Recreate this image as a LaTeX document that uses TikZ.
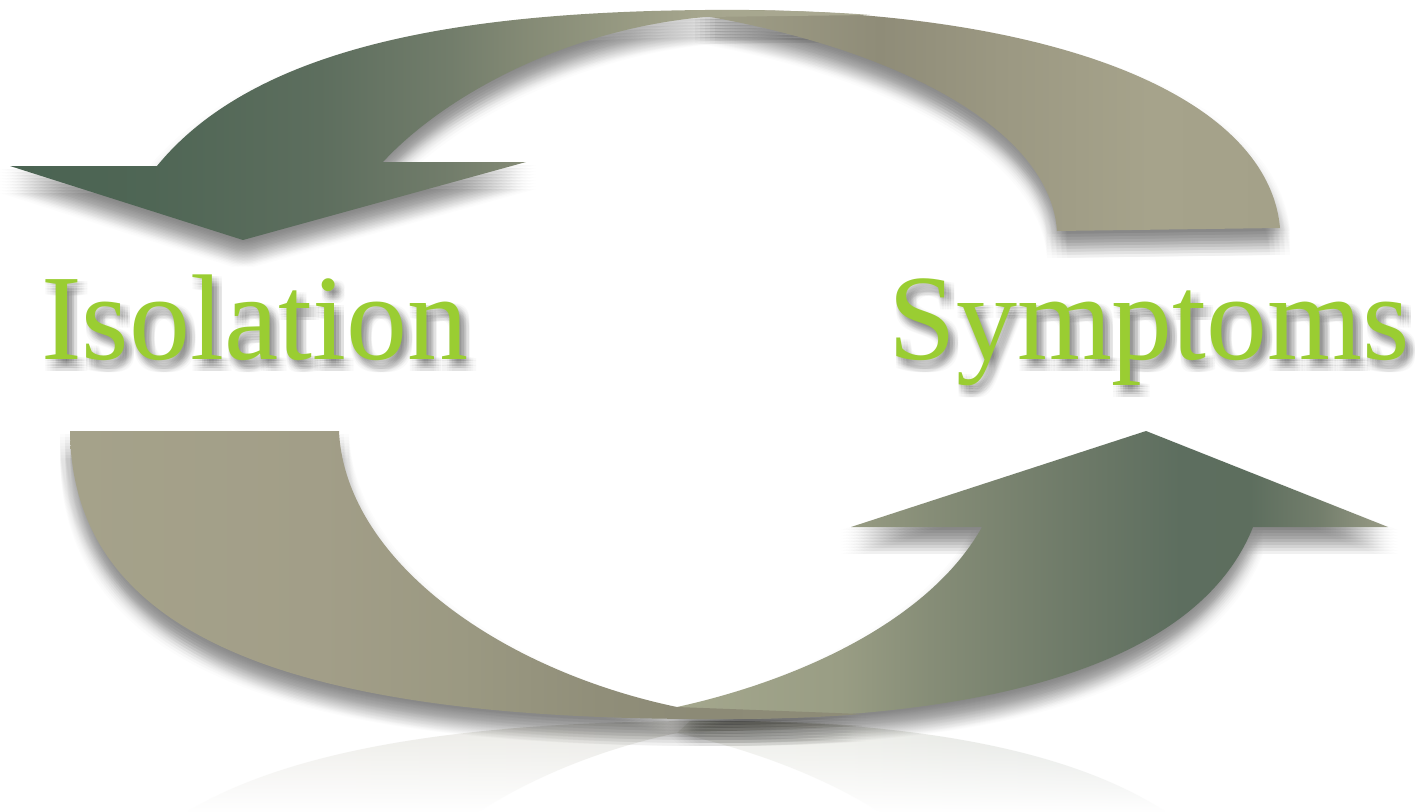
\documentclass[tikz,border=0pt]{standalone}
\usepackage{fontspec}
\setmainfont{Liberation Serif}
\usetikzlibrary{fadings,calc}

\definecolor{leafgreen}{HTML}{9ACD32}

% colour stops of the arrow pieces
\definecolor{ta1}{HTML}{4A6352}\definecolor{ta2}{HTML}{4F6655}
\definecolor{ta3}{HTML}{5D6E5E}\definecolor{ta4}{HTML}{727D6B}
\definecolor{ta5}{HTML}{848A75}\definecolor{ta6}{HTML}{9A9C84}
\definecolor{ta7}{HTML}{A6A68E}\definecolor{ta8}{HTML}{AAA992}

\definecolor{tb1}{HTML}{A09F88}\definecolor{tb2}{HTML}{8F8C78}
\definecolor{tb3}{HTML}{9B9882}\definecolor{tb4}{HTML}{A6A38B}
\definecolor{tb5}{HTML}{A4A189}

\definecolor{bc1}{HTML}{A5A28A}\definecolor{bc2}{HTML}{A29E88}
\definecolor{bc3}{HTML}{9B9982}\definecolor{bc4}{HTML}{908E79}
\definecolor{bc5}{HTML}{8C8A76}\definecolor{bc6}{HTML}{8E8C78}

\definecolor{bd1}{HTML}{A4A78D}\definecolor{bd2}{HTML}{999D84}
\definecolor{bd3}{HTML}{868D77}\definecolor{bd4}{HTML}{6F7B69}
\definecolor{bd5}{HTML}{5D6E5F}\definecolor{bd6}{HTML}{5D6E5E}
\definecolor{bd7}{HTML}{737E6C}\definecolor{bd8}{HTML}{9A9C87}

% horizontal shadings: 25bp..75bp spans the filled path
\pgfdeclarehorizontalshading{topheadshade}{100bp}{color(0bp)=(ta1); color(25bp)=(ta1);
  color(33.1bp)=(ta2); color(43bp)=(ta3); color(50.6bp)=(ta4); color(54.9bp)=(ta5);
  color(61.6bp)=(ta6); color(65.1bp)=(ta7); color(75bp)=(ta8); color(100bp)=(ta8)}
\pgfdeclarehorizontalshading{toptailshade}{100bp}{color(0bp)=(tb1); color(25bp)=(tb1);
  color(40.2bp)=(tb2); color(50.7bp)=(tb3); color(63.7bp)=(tb4); color(75bp)=(tb5); color(100bp)=(tb5)}
\pgfdeclarehorizontalshading{bottailshade}{100bp}{color(0bp)=(bc1); color(25bp)=(bc1);
  color(40.8bp)=(bc2); color(49.7bp)=(bc3); color(58.5bp)=(bc4); color(64.9bp)=(bc5);
  color(75bp)=(bc6); color(100bp)=(bc6)}
\pgfdeclarehorizontalshading{botheadshade}{100bp}{color(0bp)=(bd1); color(25bp)=(bd1);
  color(36.5bp)=(bd2); color(42.8bp)=(bd3); color(52.4bp)=(bd4); color(60.4bp)=(bd5);
  color(65.3bp)=(bd6); color(70.2bp)=(bd7); color(75bp)=(bd8); color(100bp)=(bd8)}

% outlines of the four ribbon pieces (pixel-like units, y downwards)
\newcommand\pathTopHead{(10,166) -- (157,166) .. controls (260,40) and (480,12) .. (705,10)
  .. controls (760,10) and (820,11) .. (870,15) -- (705,17)
  .. controls (560,30) and (440,100) .. (383,162) -- (526,162) -- (243,240) -- cycle}
\newcommand\pathTopTail{(705,10) .. controls (1050,6) and (1268,95) .. (1280,228)
  -- (1057,231) .. controls (1050,130) and (900,50) .. (705,16) -- cycle}
\newcommand\pathBotHead{(690,719) .. controls (1000,722) and (1200,660) .. (1253,527)
  -- (1388,527) -- (1146,431) -- (851,527) -- (982,527)
  .. controls (930,620) and (800,680) .. (677,707) -- cycle}
\newcommand\pathBotTail{(70,431) -- (339,431) .. controls (345,560) and (500,670) .. (677,707)
  -- (862,714) .. controls (800,719) and (750,719) .. (700,719)
  .. controls (300,718) and (72,640) .. (70,431) -- cycle}

% letter-shaped masks for the blurred text shadows
\begin{tikzfadingfrompicture}[name=isolationmask]
  \node[inner sep=0pt, text=transparent!0, font=\fontsize{122}{146}\selectfont] {Isolation};
\end{tikzfadingfrompicture}
\begin{tikzfadingfrompicture}[name=symptomsmask]
  \node[inner sep=0pt, text=transparent!0, font=\fontsize{122}{146}\selectfont] {Symptoms};
\end{tikzfadingfrompicture}

\pgfdeclarelayer{paper}
\pgfdeclarelayer{textshade}
\pgfsetlayers{paper,textshade,main}

\tikzset{
  softshadow/.style={fill=black, opacity=0.013},
  labeltext/.style={anchor=base west, inner sep=0pt, font=\fontsize{122}{146}\selectfont},
}

\begin{document}
\begin{tikzpicture}[x=1pt, y=-1pt]
\useasboundingbox (0,0) rectangle (1420,811);
\begin{pgfonlayer}{paper}
  \fill[white] (0,0) rectangle (1420,811);
\end{pgfonlayer}

% mirrored image of the lower arrow on the floor
\begin{scope}[cm={1,0,0,-1,(0,1440)}, opacity=0.2]
  \path[shading=botheadshade] \pathBotHead;
  \path[shading=bottailshade] \pathBotTail;
\end{scope}
\fill[white, path fading=north] (0,719) rectangle (1420,812);

% soft drop shadows
\foreach \dx in {-10,-5,0,5,10}{
  \foreach \dy in {3,6,...,27}{
    \fill[softshadow, shift={(\dx,\dy)}] \pathTopHead;
    \fill[softshadow, shift={(\dx,\dy)}] \pathTopTail;
    \fill[softshadow, shift={(\dx,\dy)}] \pathBotHead;
    \fill[softshadow, shift={(\dx,\dy)}] \pathBotTail;
  }
}

% the two ribbon arrows
\path[shading=toptailshade] \pathTopTail;
\path[shading=topheadshade] \pathTopHead;
\path[shading=botheadshade] \pathBotHead;
\path[shading=bottailshade] \pathBotTail;

% labels
\node[labeltext, text=leafgreen, name=isolation] at (41,359) {Isolation};
\node[labeltext, text=leafgreen, name=symptoms] at (888,359) {Symptoms};

% blurred text shadows beneath the labels
\begin{pgfonlayer}{textshade}
  \foreach \dx in {0,2.5,5,7.5,10}{
    \foreach \dy in {2,4.5,7,9.5,12}{
      \fill[black, opacity=0.024, path fading=isolationmask, fit fading=false,
            fading transform={shift={($(isolation.center)+(\dx,\dy)$)}}]
        ($(isolation.center)+(-300,-110)$) rectangle ($(isolation.center)+(300,110)$);
      \fill[black, opacity=0.024, path fading=symptomsmask, fit fading=false,
            fading transform={shift={($(symptoms.center)+(\dx,\dy)$)}}]
        ($(symptoms.center)+(-330,-110)$) rectangle ($(symptoms.center)+(330,110)$);
    }
  }
\end{pgfonlayer}
\end{tikzpicture}
\end{document}
